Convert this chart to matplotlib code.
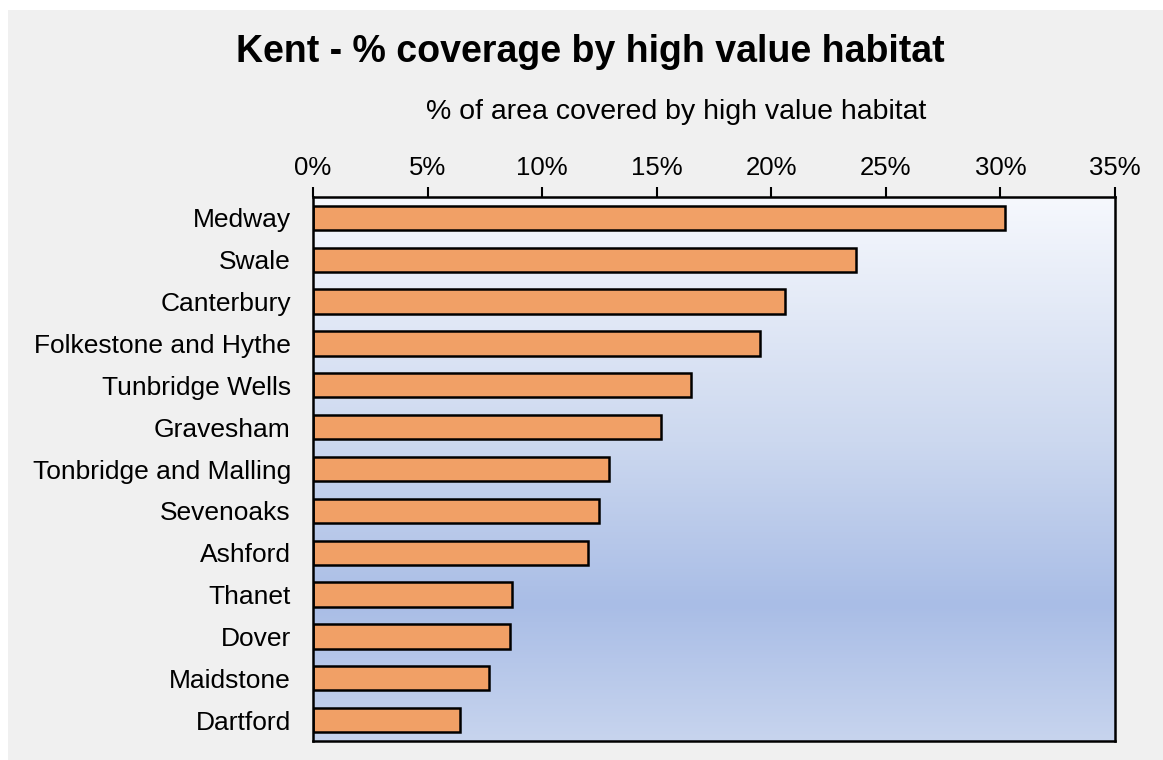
import numpy as np
import matplotlib
matplotlib.use("Agg")
import matplotlib.pyplot as plt
from matplotlib.colors import LinearSegmentedColormap
from matplotlib.patches import Rectangle
from matplotlib.ticker import FuncFormatter, MultipleLocator

plt.rcParams["font.family"] = ["Liberation Sans", "DejaVu Sans"]

DISTRICTS = ["Medway", "Swale", "Canterbury", "Folkestone and Hythe",
             "Tunbridge Wells", "Gravesham", "Tonbridge and Malling",
             "Sevenoaks", "Ashford", "Thanet", "Dover", "Maidstone", "Dartford"]
COVERAGE = [30.2, 23.7, 20.6, 19.5, 16.5, 15.2, 12.9,
            12.5, 12.0, 8.7, 8.6, 7.7, 6.4]

fig = plt.figure(figsize=(11.63, 7.6), dpi=100)
fig.patch.set_facecolor("white")
# grey chart area with thin white strip at top/left
fig.patches.append(Rectangle((8 / 1163, 0), 1, 1 - 10 / 760, transform=fig.transFigure,
                             facecolor="#f0f0f0", edgecolor="none", zorder=-10))

ax = fig.add_axes([313 / 1163, 1 - 741 / 760, (1115 - 313) / 1163, (741 - 197) / 760])

# vertical gradient background
grad = LinearSegmentedColormap.from_list(
    "bg", [(0.0, "#f6f8fd"), (0.45, "#ccd8ef"), (0.75, "#a9bde6"), (1.0, "#c7d4ee")])
ax.imshow(np.linspace(0, 1, 256).reshape(-1, 1), cmap=grad, aspect="auto",
          extent=[0, 1, 0, 1], transform=ax.transAxes, zorder=0)

y = np.arange(len(DISTRICTS))
ax.barh(y, COVERAGE, height=0.58, color="#f1a066", edgecolor="black",
        linewidth=1.8, zorder=2)

ax.set_xlim(0, 35)
ax.set_ylim(len(DISTRICTS) - 0.5, -0.5)
ax.xaxis.set_major_locator(MultipleLocator(5))
ax.xaxis.set_major_formatter(FuncFormatter(lambda v, p: f"{v:.0f}%"))
ax.xaxis.tick_top()
ax.set_yticks(y)
ax.set_yticklabels(DISTRICTS)
ax.tick_params(axis="x", direction="out", length=7, width=1.5, labelsize=18.5, pad=5)
ax.tick_params(axis="y", length=0, labelsize=19, pad=16)
for s in ax.spines.values():
    s.set_linewidth(1.8)
    s.set_color("black")

fig.text(676 / 1163, 1 - 112 / 760, "% of area covered by high value habitat",
         ha="center", va="center", fontsize=20.5)
fig.text(590 / 1163, 1 - 52 / 760, "Kent - % coverage by high value habitat",
         ha="center", va="center", fontsize=27, fontweight="bold")

fig.savefig("out.png", dpi=100)
